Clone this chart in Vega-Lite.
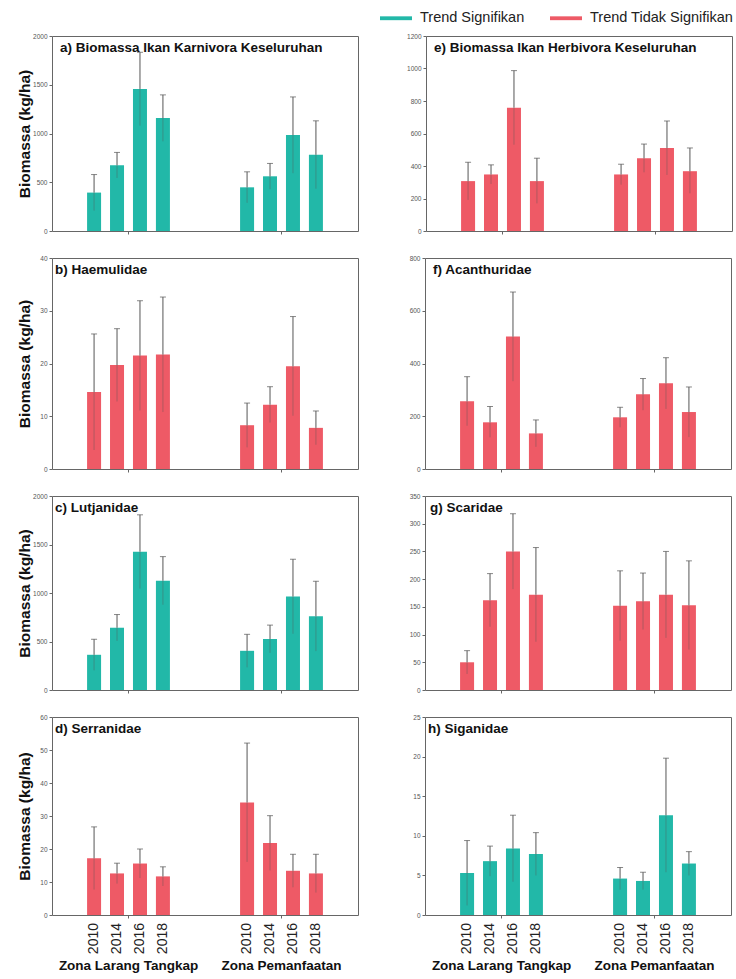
{
  "$schema": "https://vega.github.io/schema/vega-lite/v6.json",
  "background": "white",
  "padding": {"left": 16, "top": 2, "right": 5, "bottom": 5},
  "datasets": {
    "d": [
      {"panel":"a","zone":"Zona Larang Tangkap","year":"2010","mean":394,"lo":209,"hi":579,"trend":"Trend Signifikan"},
      {"panel":"a","zone":"Zona Larang Tangkap","year":"2014","mean":675,"lo":544,"hi":806,"trend":"Trend Signifikan"},
      {"panel":"a","zone":"Zona Larang Tangkap","year":"2016","mean":1457,"lo":1081,"hi":1833,"trend":"Trend Signifikan"},
      {"panel":"a","zone":"Zona Larang Tangkap","year":"2018","mean":1158,"lo":920,"hi":1396,"trend":"Trend Signifikan"},
      {"panel":"a","zone":"Zona Pemanfaatan","year":"2010","mean":448,"lo":289,"hi":607,"trend":"Trend Signifikan"},
      {"panel":"a","zone":"Zona Pemanfaatan","year":"2014","mean":561,"lo":429,"hi":693,"trend":"Trend Signifikan"},
      {"panel":"a","zone":"Zona Pemanfaatan","year":"2016","mean":984,"lo":593,"hi":1375,"trend":"Trend Signifikan"},
      {"panel":"a","zone":"Zona Pemanfaatan","year":"2018","mean":782,"lo":434,"hi":1130,"trend":"Trend Signifikan"},
      {"panel":"e","zone":"Zona Larang Tangkap","year":"2010","mean":307,"lo":191,"hi":423,"trend":"Trend Tidak Signifikan"},
      {"panel":"e","zone":"Zona Larang Tangkap","year":"2014","mean":348,"lo":289,"hi":407,"trend":"Trend Tidak Signifikan"},
      {"panel":"e","zone":"Zona Larang Tangkap","year":"2016","mean":759,"lo":531,"hi":987,"trend":"Trend Tidak Signifikan"},
      {"panel":"e","zone":"Zona Larang Tangkap","year":"2018","mean":307,"lo":170,"hi":448,"trend":"Trend Tidak Signifikan"},
      {"panel":"e","zone":"Zona Pemanfaatan","year":"2010","mean":348,"lo":285,"hi":411,"trend":"Trend Tidak Signifikan"},
      {"panel":"e","zone":"Zona Pemanfaatan","year":"2014","mean":448,"lo":361,"hi":535,"trend":"Trend Tidak Signifikan"},
      {"panel":"e","zone":"Zona Pemanfaatan","year":"2016","mean":511,"lo":345,"hi":677,"trend":"Trend Tidak Signifikan"},
      {"panel":"e","zone":"Zona Pemanfaatan","year":"2018","mean":368,"lo":232,"hi":511,"trend":"Trend Tidak Signifikan"},
      {"panel":"b","zone":"Zona Larang Tangkap","year":"2010","mean":14.6,"lo":3.6,"hi":25.6,"trend":"Trend Tidak Signifikan"},
      {"panel":"b","zone":"Zona Larang Tangkap","year":"2014","mean":19.7,"lo":12.8,"hi":26.6,"trend":"Trend Tidak Signifikan"},
      {"panel":"b","zone":"Zona Larang Tangkap","year":"2016","mean":21.5,"lo":11.1,"hi":31.9,"trend":"Trend Tidak Signifikan"},
      {"panel":"b","zone":"Zona Larang Tangkap","year":"2018","mean":21.7,"lo":10.8,"hi":32.6,"trend":"Trend Tidak Signifikan"},
      {"panel":"b","zone":"Zona Pemanfaatan","year":"2010","mean":8.3,"lo":4.1,"hi":12.5,"trend":"Trend Tidak Signifikan"},
      {"panel":"b","zone":"Zona Pemanfaatan","year":"2014","mean":12.2,"lo":8.8,"hi":15.6,"trend":"Trend Tidak Signifikan"},
      {"panel":"b","zone":"Zona Pemanfaatan","year":"2016","mean":19.5,"lo":10.1,"hi":28.9,"trend":"Trend Tidak Signifikan"},
      {"panel":"b","zone":"Zona Pemanfaatan","year":"2018","mean":7.8,"lo":4.6,"hi":11.0,"trend":"Trend Tidak Signifikan"},
      {"panel":"f","zone":"Zona Larang Tangkap","year":"2010","mean":257,"lo":164,"hi":350,"trend":"Trend Tidak Signifikan"},
      {"panel":"f","zone":"Zona Larang Tangkap","year":"2014","mean":177,"lo":120,"hi":237,"trend":"Trend Tidak Signifikan"},
      {"panel":"f","zone":"Zona Larang Tangkap","year":"2016","mean":502,"lo":333,"hi":671,"trend":"Trend Tidak Signifikan"},
      {"panel":"f","zone":"Zona Larang Tangkap","year":"2018","mean":135,"lo":84,"hi":186,"trend":"Trend Tidak Signifikan"},
      {"panel":"f","zone":"Zona Pemanfaatan","year":"2010","mean":196,"lo":158,"hi":234,"trend":"Trend Tidak Signifikan"},
      {"panel":"f","zone":"Zona Pemanfaatan","year":"2014","mean":283,"lo":223,"hi":343,"trend":"Trend Tidak Signifikan"},
      {"panel":"f","zone":"Zona Pemanfaatan","year":"2016","mean":325,"lo":228,"hi":422,"trend":"Trend Tidak Signifikan"},
      {"panel":"f","zone":"Zona Pemanfaatan","year":"2018","mean":216,"lo":121,"hi":311,"trend":"Trend Tidak Signifikan"},
      {"panel":"c","zone":"Zona Larang Tangkap","year":"2010","mean":363,"lo":203,"hi":523,"trend":"Trend Signifikan"},
      {"panel":"c","zone":"Zona Larang Tangkap","year":"2014","mean":642,"lo":506,"hi":778,"trend":"Trend Signifikan"},
      {"panel":"c","zone":"Zona Larang Tangkap","year":"2016","mean":1426,"lo":1046,"hi":1806,"trend":"Trend Signifikan"},
      {"panel":"c","zone":"Zona Larang Tangkap","year":"2018","mean":1127,"lo":879,"hi":1375,"trend":"Trend Signifikan"},
      {"panel":"c","zone":"Zona Pemanfaatan","year":"2010","mean":404,"lo":234,"hi":574,"trend":"Trend Signifikan"},
      {"panel":"c","zone":"Zona Pemanfaatan","year":"2014","mean":526,"lo":383,"hi":669,"trend":"Trend Signifikan"},
      {"panel":"c","zone":"Zona Pemanfaatan","year":"2016","mean":964,"lo":580,"hi":1348,"trend":"Trend Signifikan"},
      {"panel":"c","zone":"Zona Pemanfaatan","year":"2018","mean":761,"lo":401,"hi":1121,"trend":"Trend Signifikan"},
      {"panel":"g","zone":"Zona Larang Tangkap","year":"2010","mean":50,"lo":29,"hi":71,"trend":"Trend Tidak Signifikan"},
      {"panel":"g","zone":"Zona Larang Tangkap","year":"2014","mean":162,"lo":114,"hi":210,"trend":"Trend Tidak Signifikan"},
      {"panel":"g","zone":"Zona Larang Tangkap","year":"2016","mean":250,"lo":182,"hi":318,"trend":"Trend Tidak Signifikan"},
      {"panel":"g","zone":"Zona Larang Tangkap","year":"2018","mean":172,"lo":87,"hi":257,"trend":"Trend Tidak Signifikan"},
      {"panel":"g","zone":"Zona Pemanfaatan","year":"2010","mean":152,"lo":89,"hi":215,"trend":"Trend Tidak Signifikan"},
      {"panel":"g","zone":"Zona Pemanfaatan","year":"2014","mean":160,"lo":109,"hi":211,"trend":"Trend Tidak Signifikan"},
      {"panel":"g","zone":"Zona Pemanfaatan","year":"2016","mean":172,"lo":94,"hi":250,"trend":"Trend Tidak Signifikan"},
      {"panel":"g","zone":"Zona Pemanfaatan","year":"2018","mean":153,"lo":73,"hi":233,"trend":"Trend Tidak Signifikan"},
      {"panel":"d","zone":"Zona Larang Tangkap","year":"2010","mean":17.2,"lo":7.7,"hi":26.7,"trend":"Trend Tidak Signifikan"},
      {"panel":"d","zone":"Zona Larang Tangkap","year":"2014","mean":12.6,"lo":9.5,"hi":15.7,"trend":"Trend Tidak Signifikan"},
      {"panel":"d","zone":"Zona Larang Tangkap","year":"2016","mean":15.6,"lo":11.2,"hi":20.0,"trend":"Trend Tidak Signifikan"},
      {"panel":"d","zone":"Zona Larang Tangkap","year":"2018","mean":11.7,"lo":8.8,"hi":14.6,"trend":"Trend Tidak Signifikan"},
      {"panel":"d","zone":"Zona Pemanfaatan","year":"2010","mean":34.1,"lo":16.1,"hi":52.1,"trend":"Trend Tidak Signifikan"},
      {"panel":"d","zone":"Zona Pemanfaatan","year":"2014","mean":21.8,"lo":13.5,"hi":30.1,"trend":"Trend Tidak Signifikan"},
      {"panel":"d","zone":"Zona Pemanfaatan","year":"2016","mean":13.4,"lo":8.4,"hi":18.4,"trend":"Trend Tidak Signifikan"},
      {"panel":"d","zone":"Zona Pemanfaatan","year":"2018","mean":12.6,"lo":6.8,"hi":18.4,"trend":"Trend Tidak Signifikan"},
      {"panel":"h","zone":"Zona Larang Tangkap","year":"2010","mean":5.3,"lo":1.2,"hi":9.4,"trend":"Trend Signifikan"},
      {"panel":"h","zone":"Zona Larang Tangkap","year":"2014","mean":6.8,"lo":4.9,"hi":8.7,"trend":"Trend Signifikan"},
      {"panel":"h","zone":"Zona Larang Tangkap","year":"2016","mean":8.4,"lo":4.2,"hi":12.6,"trend":"Trend Signifikan"},
      {"panel":"h","zone":"Zona Larang Tangkap","year":"2018","mean":7.7,"lo":5.0,"hi":10.4,"trend":"Trend Signifikan"},
      {"panel":"h","zone":"Zona Pemanfaatan","year":"2010","mean":4.6,"lo":3.2,"hi":6.0,"trend":"Trend Signifikan"},
      {"panel":"h","zone":"Zona Pemanfaatan","year":"2014","mean":4.3,"lo":3.2,"hi":5.4,"trend":"Trend Signifikan"},
      {"panel":"h","zone":"Zona Pemanfaatan","year":"2016","mean":12.6,"lo":5.4,"hi":19.8,"trend":"Trend Signifikan"},
      {"panel":"h","zone":"Zona Pemanfaatan","year":"2018","mean":6.5,"lo":5.0,"hi":8.0,"trend":"Trend Signifikan"}
    ]
  },
  "vconcat": [
    {"hconcat": [
      {"width": 306, "height": 195, "data": {"name": "d"}, "transform": [{"filter": "datum.panel == 'a'"}],
       "title": {"text": "a) Biomassa Ikan Karnivora Keseluruhan", "dx": 8},
       "encoding": {"x": {"field": "zone", "type": "nominal", "scale": {"domain": ["Zona Larang Tangkap", "Zona Pemanfaatan"], "paddingInner": 0.4, "paddingOuter": 0.2}, "axis": {"labels": false, "title": null}},
                    "xOffset": {"field": "year", "type": "ordinal", "scale": {"paddingInner": 0.39, "paddingOuter": 0.195}}},
       "layer": [
         {"mark": {"type": "bar"}, "encoding": {"y": {"field": "mean", "type": "quantitative", "scale": {"domain": [0, 2000], "nice": false}, "axis": {"values": [0, 500, 1000, 1500, 2000], "format": "d", "title": "Biomassa (kg/ha)"}}, "color": {"field": "trend", "type": "nominal"}}},
         {"mark": {"type": "rule", "color": "#555", "opacity": 0.4}, "encoding": {"y": {"field": "lo", "type": "quantitative", "scale": {"domain": [0, 2000], "nice": false}, "axis": {"values": [0, 500, 1000, 1500, 2000], "format": "d", "title": "Biomassa (kg/ha)"}}, "y2": {"field": "mean"}}},
         {"mark": {"type": "rule", "color": "#555"}, "encoding": {"y": {"field": "mean", "type": "quantitative", "scale": {"domain": [0, 2000], "nice": false}, "axis": {"values": [0, 500, 1000, 1500, 2000], "format": "d", "title": "Biomassa (kg/ha)"}}, "y2": {"field": "hi"}}},
         {"mark": {"type": "tick", "color": "#555", "size": 6, "thickness": 1}, "encoding": {"y": {"field": "hi", "type": "quantitative", "scale": {"domain": [0, 2000], "nice": false}, "axis": {"values": [0, 500, 1000, 1500, 2000], "format": "d", "title": "Biomassa (kg/ha)"}}}}
       ]},
      {"width": 306, "height": 195, "data": {"name": "d"}, "transform": [{"filter": "datum.panel == 'e'"}],
       "title": {"text": "e) Biomassa Ikan Herbivora Keseluruhan", "dx": 8},
       "encoding": {"x": {"field": "zone", "type": "nominal", "scale": {"domain": ["Zona Larang Tangkap", "Zona Pemanfaatan"], "paddingInner": 0.4, "paddingOuter": 0.2}, "axis": {"labels": false, "title": null}},
                    "xOffset": {"field": "year", "type": "ordinal", "scale": {"paddingInner": 0.39, "paddingOuter": 0.195}}},
       "layer": [
         {"mark": {"type": "bar"}, "encoding": {"y": {"field": "mean", "type": "quantitative", "scale": {"domain": [0, 1200], "nice": false}, "axis": {"values": [0, 200, 400, 600, 800, 1000, 1200], "format": "d", "title": null}}, "color": {"field": "trend", "type": "nominal"}}},
         {"mark": {"type": "rule", "color": "#555", "opacity": 0.4}, "encoding": {"y": {"field": "lo", "type": "quantitative", "scale": {"domain": [0, 1200], "nice": false}, "axis": {"values": [0, 200, 400, 600, 800, 1000, 1200], "format": "d", "title": null}}, "y2": {"field": "mean"}}},
         {"mark": {"type": "rule", "color": "#555"}, "encoding": {"y": {"field": "mean", "type": "quantitative", "scale": {"domain": [0, 1200], "nice": false}, "axis": {"values": [0, 200, 400, 600, 800, 1000, 1200], "format": "d", "title": null}}, "y2": {"field": "hi"}}},
         {"mark": {"type": "tick", "color": "#555", "size": 6, "thickness": 1}, "encoding": {"y": {"field": "hi", "type": "quantitative", "scale": {"domain": [0, 1200], "nice": false}, "axis": {"values": [0, 200, 400, 600, 800, 1000, 1200], "format": "d", "title": null}}}}
       ]}
    ]},
    {"hconcat": [
      {"width": 306, "height": 211, "data": {"name": "d"}, "transform": [{"filter": "datum.panel == 'b'"}],
       "title": {"text": "b) Haemulidae", "dx": 3},
       "encoding": {"x": {"field": "zone", "type": "nominal", "scale": {"domain": ["Zona Larang Tangkap", "Zona Pemanfaatan"], "paddingInner": 0.4, "paddingOuter": 0.2}, "axis": {"labels": false, "title": null}},
                    "xOffset": {"field": "year", "type": "ordinal", "scale": {"paddingInner": 0.39, "paddingOuter": 0.195}}},
       "layer": [
         {"mark": {"type": "bar"}, "encoding": {"y": {"field": "mean", "type": "quantitative", "scale": {"domain": [0, 40], "nice": false}, "axis": {"values": [0, 10, 20, 30, 40], "format": "d", "title": "Biomassa (kg/ha)"}}, "color": {"field": "trend", "type": "nominal"}}},
         {"mark": {"type": "rule", "color": "#555", "opacity": 0.4}, "encoding": {"y": {"field": "lo", "type": "quantitative", "scale": {"domain": [0, 40], "nice": false}, "axis": {"values": [0, 10, 20, 30, 40], "format": "d", "title": "Biomassa (kg/ha)"}}, "y2": {"field": "mean"}}},
         {"mark": {"type": "rule", "color": "#555"}, "encoding": {"y": {"field": "mean", "type": "quantitative", "scale": {"domain": [0, 40], "nice": false}, "axis": {"values": [0, 10, 20, 30, 40], "format": "d", "title": "Biomassa (kg/ha)"}}, "y2": {"field": "hi"}}},
         {"mark": {"type": "tick", "color": "#555", "size": 6, "thickness": 1}, "encoding": {"y": {"field": "hi", "type": "quantitative", "scale": {"domain": [0, 40], "nice": false}, "axis": {"values": [0, 10, 20, 30, 40], "format": "d", "title": "Biomassa (kg/ha)"}}}}
       ]},
      {"width": 306, "height": 211, "data": {"name": "d"}, "transform": [{"filter": "datum.panel == 'f'"}],
       "title": {"text": "f) Acanthuridae", "dx": 8},
       "encoding": {"x": {"field": "zone", "type": "nominal", "scale": {"domain": ["Zona Larang Tangkap", "Zona Pemanfaatan"], "paddingInner": 0.4, "paddingOuter": 0.2}, "axis": {"labels": false, "title": null}},
                    "xOffset": {"field": "year", "type": "ordinal", "scale": {"paddingInner": 0.39, "paddingOuter": 0.195}}},
       "layer": [
         {"mark": {"type": "bar"}, "encoding": {"y": {"field": "mean", "type": "quantitative", "scale": {"domain": [0, 800], "nice": false}, "axis": {"values": [0, 200, 400, 600, 800], "format": "d", "title": null}}, "color": {"field": "trend", "type": "nominal"}}},
         {"mark": {"type": "rule", "color": "#555", "opacity": 0.4}, "encoding": {"y": {"field": "lo", "type": "quantitative", "scale": {"domain": [0, 800], "nice": false}, "axis": {"values": [0, 200, 400, 600, 800], "format": "d", "title": null}}, "y2": {"field": "mean"}}},
         {"mark": {"type": "rule", "color": "#555"}, "encoding": {"y": {"field": "mean", "type": "quantitative", "scale": {"domain": [0, 800], "nice": false}, "axis": {"values": [0, 200, 400, 600, 800], "format": "d", "title": null}}, "y2": {"field": "hi"}}},
         {"mark": {"type": "tick", "color": "#555", "size": 6, "thickness": 1}, "encoding": {"y": {"field": "hi", "type": "quantitative", "scale": {"domain": [0, 800], "nice": false}, "axis": {"values": [0, 200, 400, 600, 800], "format": "d", "title": null}}}}
       ]}
    ]},
    {"hconcat": [
      {"width": 306, "height": 194, "data": {"name": "d"}, "transform": [{"filter": "datum.panel == 'c'"}],
       "title": {"text": "c) Lutjanidae", "dx": 3},
       "encoding": {"x": {"field": "zone", "type": "nominal", "scale": {"domain": ["Zona Larang Tangkap", "Zona Pemanfaatan"], "paddingInner": 0.4, "paddingOuter": 0.2}, "axis": {"labels": false, "title": null}},
                    "xOffset": {"field": "year", "type": "ordinal", "scale": {"paddingInner": 0.39, "paddingOuter": 0.195}}},
       "layer": [
         {"mark": {"type": "bar"}, "encoding": {"y": {"field": "mean", "type": "quantitative", "scale": {"domain": [0, 2000], "nice": false}, "axis": {"values": [0, 500, 1000, 1500, 2000], "format": "d", "title": "Biomassa (kg/ha)"}}, "color": {"field": "trend", "type": "nominal"}}},
         {"mark": {"type": "rule", "color": "#555", "opacity": 0.4}, "encoding": {"y": {"field": "lo", "type": "quantitative", "scale": {"domain": [0, 2000], "nice": false}, "axis": {"values": [0, 500, 1000, 1500, 2000], "format": "d", "title": "Biomassa (kg/ha)"}}, "y2": {"field": "mean"}}},
         {"mark": {"type": "rule", "color": "#555"}, "encoding": {"y": {"field": "mean", "type": "quantitative", "scale": {"domain": [0, 2000], "nice": false}, "axis": {"values": [0, 500, 1000, 1500, 2000], "format": "d", "title": "Biomassa (kg/ha)"}}, "y2": {"field": "hi"}}},
         {"mark": {"type": "tick", "color": "#555", "size": 6, "thickness": 1}, "encoding": {"y": {"field": "hi", "type": "quantitative", "scale": {"domain": [0, 2000], "nice": false}, "axis": {"values": [0, 500, 1000, 1500, 2000], "format": "d", "title": "Biomassa (kg/ha)"}}}}
       ]},
      {"width": 306, "height": 194, "data": {"name": "d"}, "transform": [{"filter": "datum.panel == 'g'"}],
       "title": {"text": "g) Scaridae", "dx": 5},
       "encoding": {"x": {"field": "zone", "type": "nominal", "scale": {"domain": ["Zona Larang Tangkap", "Zona Pemanfaatan"], "paddingInner": 0.4, "paddingOuter": 0.2}, "axis": {"labels": false, "title": null}},
                    "xOffset": {"field": "year", "type": "ordinal", "scale": {"paddingInner": 0.39, "paddingOuter": 0.195}}},
       "layer": [
         {"mark": {"type": "bar"}, "encoding": {"y": {"field": "mean", "type": "quantitative", "scale": {"domain": [0, 350], "nice": false}, "axis": {"values": [0, 50, 100, 150, 200, 250, 300, 350], "format": "d", "title": null}}, "color": {"field": "trend", "type": "nominal"}}},
         {"mark": {"type": "rule", "color": "#555", "opacity": 0.4}, "encoding": {"y": {"field": "lo", "type": "quantitative", "scale": {"domain": [0, 350], "nice": false}, "axis": {"values": [0, 50, 100, 150, 200, 250, 300, 350], "format": "d", "title": null}}, "y2": {"field": "mean"}}},
         {"mark": {"type": "rule", "color": "#555"}, "encoding": {"y": {"field": "mean", "type": "quantitative", "scale": {"domain": [0, 350], "nice": false}, "axis": {"values": [0, 50, 100, 150, 200, 250, 300, 350], "format": "d", "title": null}}, "y2": {"field": "hi"}}},
         {"mark": {"type": "tick", "color": "#555", "size": 6, "thickness": 1}, "encoding": {"y": {"field": "hi", "type": "quantitative", "scale": {"domain": [0, 350], "nice": false}, "axis": {"values": [0, 50, 100, 150, 200, 250, 300, 350], "format": "d", "title": null}}}}
       ]}
    ]},
    {"hconcat": [
      {"width": 306, "height": 198, "data": {"name": "d"}, "transform": [{"filter": "datum.panel == 'd'"}],
       "title": {"text": "d) Serranidae", "dx": 3},
       "encoding": {"x": {"field": "zone", "type": "nominal", "scale": {"domain": ["Zona Larang Tangkap", "Zona Pemanfaatan"], "paddingInner": 0.4, "paddingOuter": 0.2}, "axis": {"labels": true, "title": null, "labelFontSize": 13.5, "labelFontWeight": "bold", "labelColor": "#111", "labelPadding": 40, "labelAngle": 0}},
                    "xOffset": {"field": "year", "type": "ordinal", "scale": {"paddingInner": 0.39, "paddingOuter": 0.195}}},
       "layer": [
         {"mark": {"type": "bar"}, "encoding": {"y": {"field": "mean", "type": "quantitative", "scale": {"domain": [0, 60], "nice": false}, "axis": {"values": [0, 10, 20, 30, 40, 50, 60], "format": "d", "title": "Biomassa (kg/ha)"}}, "color": {"field": "trend", "type": "nominal"}}},
         {"mark": {"type": "rule", "color": "#555", "opacity": 0.4}, "encoding": {"y": {"field": "lo", "type": "quantitative", "scale": {"domain": [0, 60], "nice": false}, "axis": {"values": [0, 10, 20, 30, 40, 50, 60], "format": "d", "title": "Biomassa (kg/ha)"}}, "y2": {"field": "mean"}}},
         {"mark": {"type": "rule", "color": "#555"}, "encoding": {"y": {"field": "mean", "type": "quantitative", "scale": {"domain": [0, 60], "nice": false}, "axis": {"values": [0, 10, 20, 30, 40, 50, 60], "format": "d", "title": "Biomassa (kg/ha)"}}, "y2": {"field": "hi"}}},
         {"mark": {"type": "tick", "color": "#555", "size": 6, "thickness": 1}, "encoding": {"y": {"field": "hi", "type": "quantitative", "scale": {"domain": [0, 60], "nice": false}, "axis": {"values": [0, 10, 20, 30, 40, 50, 60], "format": "d", "title": "Biomassa (kg/ha)"}}}},
         {"mark": {"type": "text", "angle": 270, "align": "right", "baseline": "middle", "dx": -8, "fontSize": 14, "color": "#222"}, "encoding": {"y": {"datum": 0, "type": "quantitative", "scale": {"domain": [0, 60], "nice": false}, "axis": {"values": [0, 10, 20, 30, 40, 50, 60], "format": "d", "title": "Biomassa (kg/ha)"}}, "text": {"field": "year"}}}
       ]},
      {"width": 306, "height": 198, "data": {"name": "d"}, "transform": [{"filter": "datum.panel == 'h'"}],
       "title": {"text": "h) Siganidae", "dx": 3},
       "encoding": {"x": {"field": "zone", "type": "nominal", "scale": {"domain": ["Zona Larang Tangkap", "Zona Pemanfaatan"], "paddingInner": 0.4, "paddingOuter": 0.2}, "axis": {"labels": true, "title": null, "labelFontSize": 13.5, "labelFontWeight": "bold", "labelColor": "#111", "labelPadding": 40, "labelAngle": 0}},
                    "xOffset": {"field": "year", "type": "ordinal", "scale": {"paddingInner": 0.39, "paddingOuter": 0.195}}},
       "layer": [
         {"mark": {"type": "bar"}, "encoding": {"y": {"field": "mean", "type": "quantitative", "scale": {"domain": [0, 25], "nice": false}, "axis": {"values": [0, 5, 10, 15, 20, 25], "format": "d", "title": null}}, "color": {"field": "trend", "type": "nominal"}}},
         {"mark": {"type": "rule", "color": "#555", "opacity": 0.4}, "encoding": {"y": {"field": "lo", "type": "quantitative", "scale": {"domain": [0, 25], "nice": false}, "axis": {"values": [0, 5, 10, 15, 20, 25], "format": "d", "title": null}}, "y2": {"field": "mean"}}},
         {"mark": {"type": "rule", "color": "#555"}, "encoding": {"y": {"field": "mean", "type": "quantitative", "scale": {"domain": [0, 25], "nice": false}, "axis": {"values": [0, 5, 10, 15, 20, 25], "format": "d", "title": null}}, "y2": {"field": "hi"}}},
         {"mark": {"type": "tick", "color": "#555", "size": 6, "thickness": 1}, "encoding": {"y": {"field": "hi", "type": "quantitative", "scale": {"domain": [0, 25], "nice": false}, "axis": {"values": [0, 5, 10, 15, 20, 25], "format": "d", "title": null}}}},
         {"mark": {"type": "text", "angle": 270, "align": "right", "baseline": "middle", "dx": -8, "fontSize": 14, "color": "#222"}, "encoding": {"y": {"datum": 0, "type": "quantitative", "scale": {"domain": [0, 25], "nice": false}, "axis": {"values": [0, 5, 10, 15, 20, 25], "format": "d", "title": null}}, "text": {"field": "year"}}}
       ]}
    ]}
  ],
  "spacing": 19,
  "resolve": {"scale": {"color": "shared"}},
  "config": {
    "font": "Liberation Sans",
    "concat": {"spacing": 47},
    "view": {"stroke": "#666", "strokeWidth": 1},
    "range": {"category": ["#22B8A8", "#EE5A66"]},
    "axis": {"domain": false, "grid": false, "tickColor": "#666", "tickSize": 3, "labelFont": "Liberation Sans", "titleFont": "Liberation Sans"},
    "axisY": {"labelFontSize": 6.5, "labelColor": "#555", "labelPadding": 2, "labelOverlap": false, "minExtent": 18, "maxExtent": 18, "titleFontSize": 15.5, "titleFontWeight": "bold", "titleColor": "#111", "titlePadding": 2},
    "title": {"anchor": "start", "frame": "group", "offset": -21, "baseline": "top", "fontSize": 13.5, "fontWeight": "bold", "color": "#111", "font": "Liberation Sans"},
    "legend": {"orient": "none", "direction": "horizontal", "legendX": 328, "legendY": -34, "title": null, "symbolType": "M-1,-0.12H1V0.12H-1Z", "symbolSize": 1024, "symbolStrokeWidth": 0, "labelFontSize": 14.5, "labelOffset": 8, "columnPadding": 25, "labelColor": "#222", "labelFont": "Liberation Sans"}
  }
}
